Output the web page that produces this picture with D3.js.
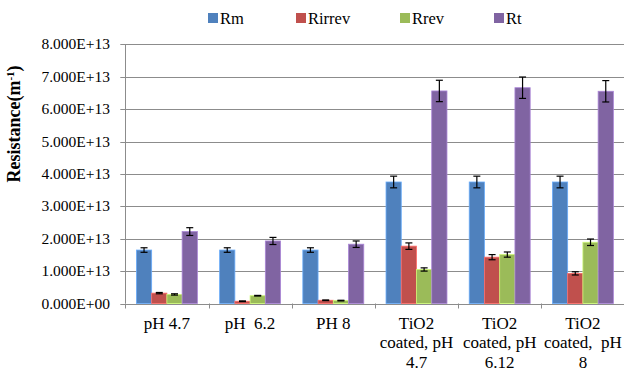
<!DOCTYPE html>
<html>
  <head>
    <meta charset="utf-8">
    <script src="https://unpkg.com/d3@7/dist/d3.min.js"></script>
    <style>
      body { margin: 0; background: #fff; }
      .grid line { stroke: #8c8c8c; stroke-width: 1px; }
      .err { stroke: #000; stroke-width: 1.2px; }
    </style>
  </head>
  <body>
    <script>
      const categories = ['pH 4.7', 'pH  6.2', 'PH 8', 'TiO2 coated, pH 4.7', 'TiO2 coated, pH 6.12', 'TiO2 coated,  pH 8'];
      const tickLines = [['pH 4.7'], ['pH  6.2'], ['PH 8'], ['TiO2', 'coated, pH', '4.7'], ['TiO2', 'coated, pH', '6.12'], ['TiO2', 'coated,  pH', '8']];
      const seriesNames = ['Rm', 'Rirrev', 'Rrev', 'Rt'];
      const colors = ['#4F81BD', '#C0504D', '#9BBB59', '#8064A2'];
      // values in units of 1E12 m^-1
      const Rm = [16.5, 16.5, 16.5, 37.5, 37.5, 37.5];
      const Rirrev = [3.2, 0.7, 1.0, 17.7, 14.3, 9.3];
      const Rrev = [2.8, 2.4, 0.9, 10.5, 15.1, 18.9];
      const Rt = [22.2, 19.3, 18.3, 65.6, 66.6, 65.5];
      const RmErr = [0.7, 0.7, 0.7, 1.8, 1.8, 1.8];
      const RirrevErr = [0.2, 0.1, 0.1, 1.0, 0.8, 0.5];
      const RrevErr = [0.2, 0.1, 0.1, 0.5, 0.8, 1.0];
      const RtErr = [1.2, 1.1, 1.0, 3.3, 3.3, 3.3];
      const yTicks = [0, 10, 20, 30, 40, 50, 60, 70, 80];
      const yTickLabels = ['0.000E+00', '1.000E+13', '2.000E+13', '3.000E+13', '4.000E+13', '5.000E+13', '6.000E+13', '7.000E+13', '8.000E+13'];

      const values = [Rm, Rirrev, Rrev, Rt];
      const errors = [RmErr, RirrevErr, RrevErr, RtErr];

      const serif = '"Liberation Serif"';
      const width = 624;
      const height = 370;
      const plotLeft = 125.3;
      const plotRight = 624.5;
      const plotTop = 44.3;
      const plotBottom = 303.5;

      const svg = d3.select('body')
        .append('svg')
        .attr('width', width)
        .attr('height', height);

      const x0 = d3.scaleBand()
        .domain(categories)
        .range([plotLeft, plotRight]);

      const x1 = d3.scaleBand()
        .domain(seriesNames)
        .range([0, x0.bandwidth()])
        .paddingOuter(0.73);

      const y = d3.scaleLinear()
        .domain([0, 80])
        .range([plotBottom, plotTop]);

      // gridlines
      svg.append('g')
        .attr('class', 'grid')
        .selectAll('line')
        .data(yTicks)
        .enter()
        .append('line')
        .attr('x1', plotLeft - 5)
        .attr('x2', plotRight)
        .attr('y1', d => Math.round(y(d)) + 0.5)
        .attr('y2', d => Math.round(y(d)) + 0.5);

      // y axis line
      svg.append('line')
        .attr('x1', Math.round(plotLeft) + 0.5)
        .attr('x2', Math.round(plotLeft) + 0.5)
        .attr('y1', y(80))
        .attr('y2', y(0))
        .attr('stroke', '#8c8c8c');

      // x tick marks
      svg.selectAll('.xtick')
        .data(categories.concat(['end']))
        .enter()
        .append('line')
        .attr('class', 'xtick')
        .attr('x1', (d, i) => Math.round(plotLeft + i * x0.step()) + 0.5)
        .attr('x2', (d, i) => Math.round(plotLeft + i * x0.step()) + 0.5)
        .attr('y1', y(0))
        .attr('y2', y(0) + 5)
        .attr('stroke', '#8c8c8c');

      // y tick labels
      svg.selectAll('.ylabel')
        .data(yTicks)
        .enter()
        .append('text')
        .attr('class', 'ylabel')
        .attr('x', 110)
        .attr('y', d => y(d) + 5)
        .attr('text-anchor', 'end')
        .style('font-family', serif)
        .style('font-size', '15.5px')
        .text((d, i) => yTickLabels[i]);

      // bars
      const groups = svg.selectAll('.series')
        .data(seriesNames)
        .enter()
        .append('g')
        .attr('class', 'series');

      groups.selectAll('rect')
        .data((s, si) => categories.map((c, ci) => ({c, s, si, v: values[si][ci], e: errors[si][ci]})))
        .enter()
        .append('rect')
        .attr('x', d => x0(d.c) + x1(d.s))
        .attr('y', d => y(d.v))
        .attr('width', x1.bandwidth())
        .attr('height', d => y(0) - y(d.v))
        .attr('fill', d => colors[d.si])
        .attr('stroke', d => d3.color(colors[d.si]).brighter(0.8))
        .attr('stroke-width', 0.8);

      // error bars
      const errG = svg.append('g');
      const allBars = [];
      seriesNames.forEach((s, si) => categories.forEach((c, ci) => {
        allBars.push({c, s, v: values[si][ci], e: errors[si][ci]});
      }));
      const cx = d => x0(d.c) + x1(d.s) + x1.bandwidth() / 2;
      errG.selectAll('.ev')
        .data(allBars)
        .enter()
        .append('line')
        .attr('class', 'err')
        .attr('x1', cx)
        .attr('x2', cx)
        .attr('y1', d => y(d.v + d.e))
        .attr('y2', d => y(d.v - d.e));
      ['+', '-'].forEach(sign => {
        errG.selectAll('.cap' + (sign === '+' ? 'p' : 'm'))
          .data(allBars)
          .enter()
          .append('line')
          .attr('class', 'err')
          .attr('x1', d => cx(d) - 3.5)
          .attr('x2', d => cx(d) + 3.5)
          .attr('y1', d => y(sign === '+' ? d.v + d.e : d.v - d.e))
          .attr('y2', d => y(sign === '+' ? d.v + d.e : d.v - d.e));
      });

      // x labels
      const xl = svg.selectAll('.xlabel')
        .data(categories)
        .enter()
        .append('text')
        .attr('class', 'xlabel')
        .attr('text-anchor', 'middle')
        .attr('xml:space', 'preserve')
        .style('white-space', 'pre')
        .style('font-family', serif)
        .style('font-size', '17px');
      xl.selectAll('tspan')
        .data((d, i) => tickLines[i].map(t => ({t, x: x0(d) + x0.bandwidth() / 2})))
        .enter()
        .append('tspan')
        .attr('x', d => d.x)
        .attr('y', (d, i) => 328.5 + i * 19.5)
        .text(d => d.t);

      // y axis title
      const yt = svg.append('text')
        .attr('transform', 'translate(20, 124) rotate(-90)')
        .attr('text-anchor', 'middle')
        .style('font-family', serif)
        .style('font-size', '18px')
        .style('font-weight', 'bold');
      yt.append('tspan').text('Resistance(m');
      yt.append('tspan').attr('dy', -6).style('font-size', '11px').text('-1');
      yt.append('tspan').attr('dy', 6).text(')');

      // legend
      const legendX = [208, 296, 400, 494];
      const lg = svg.selectAll('.legend')
        .data(seriesNames)
        .enter()
        .append('g')
        .attr('class', 'legend')
        .attr('transform', (d, i) => `translate(${legendX[i]}, 13)`);
      lg.append('rect')
        .attr('width', 10)
        .attr('height', 10)
        .attr('fill', (d, i) => colors[i]);
      lg.append('text')
        .attr('x', 12)
        .attr('y', 11)
        .style('font-family', serif)
        .style('font-size', '16.5px')
        .text(d => d);
    </script>
  </body>
</html>
